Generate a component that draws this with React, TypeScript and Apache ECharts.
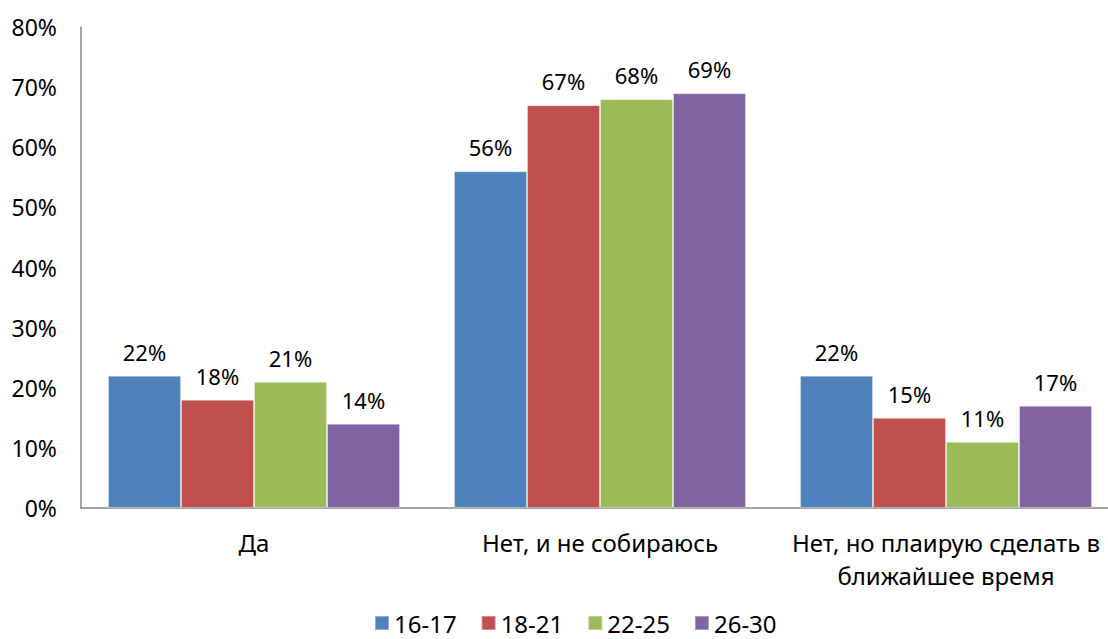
import React, { useEffect, useRef } from "react";
import * as echarts from "echarts";

const categories = ["Да", "Нет, и не собираюсь", "Нет, но плаирую сделать в\nближайшее время"];
const seriesNames = ["16-17", "18-21", "22-25", "26-30"];
const s1617 = [22, 56, 22];
const s1821 = [18, 67, 15];
const s2225 = [21, 68, 11];
const s2630 = [14, 69, 17];
const colors = ["#4F81BD", "#C0504D", "#9BBB59", "#8064A2"];

export default function App() {
  const ref = useRef<HTMLDivElement>(null);
  useEffect(() => {
    document.body.style.margin = "0";
    const chart = echarts.init(ref.current!, null, { renderer: "svg" });
    const font = "'Noto Sans', 'Open Sans', sans-serif";
    const data = [s1617, s1821, s2225, s2630];
    chart.setOption({
      animation: false,
      textStyle: { fontFamily: font },
      grid: { left: 81, top: 27, width: 1038, height: 481 },
      legend: {
        top: 606,
        left: 369,
        itemWidth: 14,
        itemHeight: 14,
        itemGap: 24,
        icon: "rect",
        textStyle: { fontSize: 24, color: "#000", fontFamily: font },
        data: seriesNames,
      },
      xAxis: {
        type: "category",
        data: categories,
        axisLine: { lineStyle: { color: "#868686", width: 1.5 } },
        axisTick: { show: false },
        axisLabel: { color: "#000", fontSize: 24, margin: 18, lineHeight: 33, fontFamily: font, interval: 0 },
      },
      yAxis: {
        type: "value",
        min: 0,
        max: 80,
        interval: 10,
        splitLine: { show: false },
        axisLine: { show: true, lineStyle: { color: "#868686", width: 1.5 } },
        axisTick: { show: false },
        axisLabel: { color: "#000", fontSize: 23, margin: 24, formatter: "{value}%", fontFamily: font },
      },
      series: seriesNames.map((name, i) => ({
        name,
        type: "bar",
        data: data[i],
        barGap: "0%",
        barCategoryGap: "15.6%",
        itemStyle: { color: colors[i], borderColor: "rgba(255,255,255,0.35)", borderWidth: 1 },
        label: {
          show: true,
          position: "top",
          distance: 13,
          formatter: "{c}%",
          color: "#000",
          fontSize: 22,
          fontFamily: font,
        },
      })),
    });
    return () => chart.dispose();
  }, []);
  return (
    <div style={{ width: 1108, height: 639, overflow: "hidden", position: "relative" }}>
      <div ref={ref} style={{ width: 1120, height: 639 }} />
    </div>
  );
}
